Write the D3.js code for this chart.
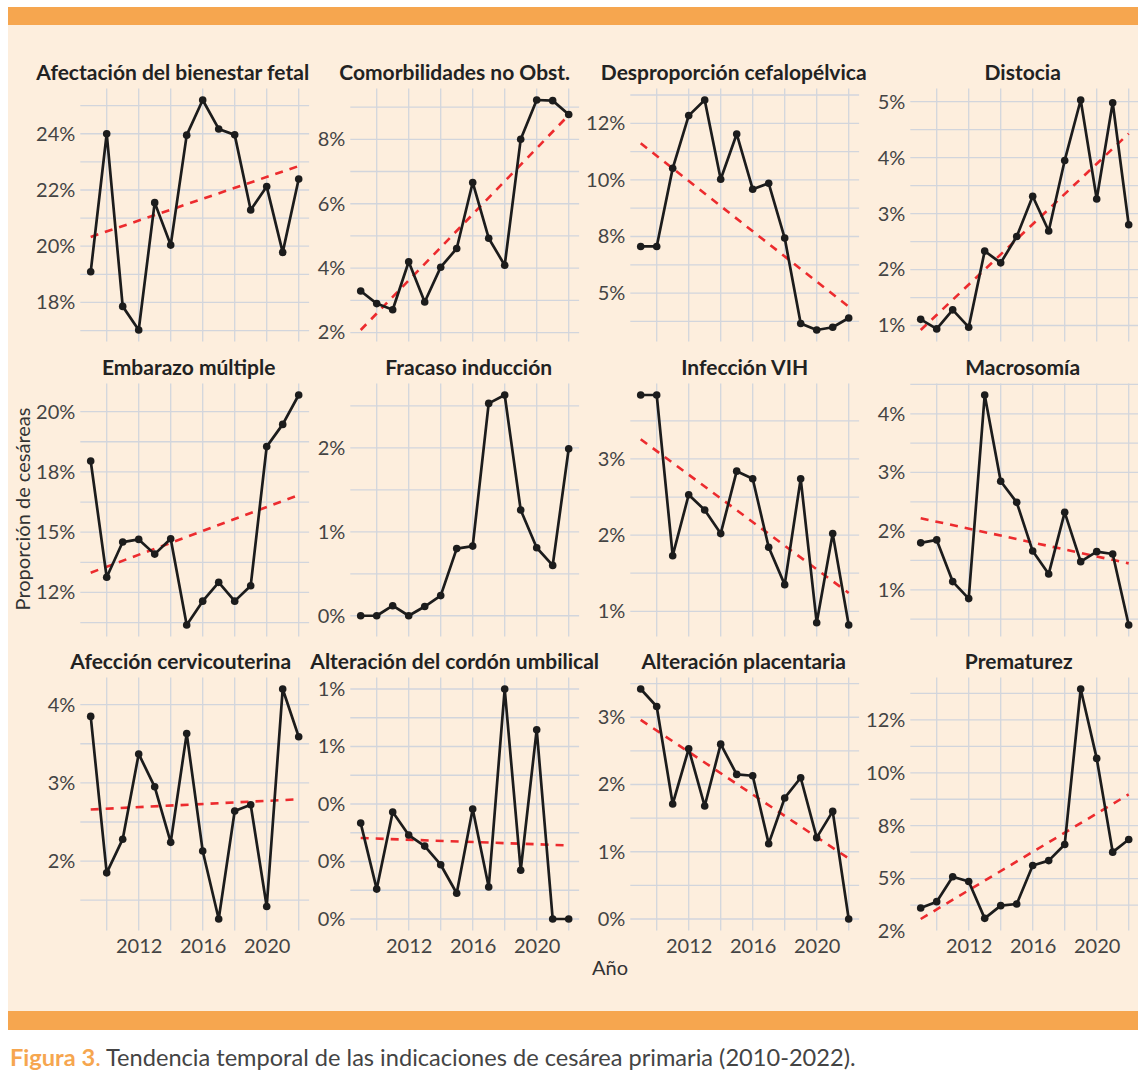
<!DOCTYPE html>
<html><head><meta charset="utf-8">
<script src="https://cdn.jsdelivr.net/npm/d3@7"></script>
<style>
body{margin:0;background:#fff}
svg{display:block}
text{font-family:Lato,"Open Sans","Noto Sans",sans-serif}
</style>
</head><body>
<svg id="c" width="1138" height="1078"></svg>
<script>
// ---------------- DATA ----------------
const years = [2009,2010,2011,2012,2013,2014,2015,2016,2017,2018,2019,2020,2021,2022];
const titles = ["Afectación del bienestar fetal","Comorbilidades no Obst.","Desproporción cefalopélvica","Distocia",
  "Embarazo múltiple","Fracaso inducción","Infección VIH","Macrosomía",
  "Afección cervicouterina","Alteración del cordón umbilical","Alteración placentaria","Prematurez"];

const afectacionBienestar = [19.09,24.0,17.86,17.02,21.55,20.04,23.95,25.2,24.17,23.96,21.29,22.12,19.78,22.39];
const comorbilidades      = [3.29,2.90,2.71,4.20,2.95,4.03,4.61,6.66,4.93,4.09,8.0,9.22,9.20,8.77];
const desproporcion       = [7.06,7.06,10.51,12.84,13.53,10.03,12.03,9.59,9.85,7.43,3.66,3.37,3.49,3.90];
const distocia            = [1.11,0.94,1.28,0.97,2.33,2.12,2.59,3.31,2.69,3.95,5.03,3.26,4.98,2.80];
const embarazoMultiple    = [17.95,13.13,14.59,14.70,14.09,14.73,11.15,12.14,12.92,12.14,12.78,18.55,19.47,20.69];
const fracasoInduccion    = [0.00,0.00,0.12,0.00,0.11,0.24,0.80,0.83,2.53,2.63,1.26,0.81,0.60,1.99];
const infeccionVIH        = [3.84,3.84,1.73,2.53,2.33,2.02,2.84,2.74,1.84,1.35,2.74,0.85,2.02,0.82];
const macrosomia          = [1.80,1.85,1.14,0.85,4.32,2.85,2.49,1.66,1.27,2.32,1.48,1.65,1.61,0.40];
const afeccionCervico     = [3.85,1.85,2.28,3.37,2.95,2.24,3.63,2.13,1.26,2.64,2.72,1.42,4.20,3.59];
const cordonUmbilical     = [0.417,0.130,0.465,0.365,0.317,0.236,0.112,0.478,0.139,1.000,0.212,0.823,0.000,0.000];
const placentaria         = [3.42,3.16,1.71,2.53,1.68,2.60,2.15,2.13,1.12,1.80,2.10,1.21,1.60,0.00];
const prematurez          = [3.61,3.91,5.09,4.86,3.12,3.72,3.80,5.62,5.85,6.61,13.96,10.68,6.25,6.85];

const seriesList = [afectacionBienestar,comorbilidades,desproporcion,distocia,embarazoMultiple,fracasoInduccion,
  infeccionVIH,macrosomia,afeccionCervico,cordonUmbilical,placentaria,prematurez];

// linear trend (value at first and last year)
const trendStart = [20.33,2.08,11.62,0.92,13.32,-0.11,3.26,2.22,2.66,0.352,2.96,3.09];
const trendEnd   = [22.85,8.75,4.40,4.43,16.54,1.81,1.24,1.45,2.79,0.320,0.90,8.98];
const trendShown = [true,true,true,true,true,false,true,true,true,true,true,true];

const yTickValues = [[18,20,22,24],[2,4,6,8],[5,7.5,10,12.5],[1,2,3,4,5],
  [12.5,15,17.5,20],[0,1,2],[1,2,3],[1,2,3,4],
  [2,3,4],[0,0.25,0.5,0.75,1],[0,1,2,3],[2.5,5,7.5,10,12.5]];
const yTickLabels = [["18%","20%","22%","24%"],["2%","4%","6%","8%"],["5%","8%","10%","12%"],["1%","2%","3%","4%","5%"],
  ["12%","15%","18%","20%"],["0%","1%","2%"],["1%","2%","3%"],["1%","2%","3%","4%"],
  ["2%","3%","4%"],["0%","0%","0%","1%","1%"],["0%","1%","2%","3%"],["2%","5%","8%","10%","12%"]];
const xTickValues = [2012,2016,2020];
const xTickLabels = ["2012","2016","2020"];
const xMinorValues = [2010,2014,2018,2022];

// ---------------- LAYOUT ----------------
const svg = d3.select("#c");
const ORANGE = "#F6A64F", BEIGE = "#FDEEDD";
svg.append("rect").attr("x",8).attr("y",7).attr("width",1130).attr("height",18).attr("fill",ORANGE);
svg.append("rect").attr("x",8).attr("y",25).attr("width",1130).attr("height",986).attr("fill",BEIGE);
svg.append("rect").attr("x",8).attr("y",1011).attr("width",1130).attr("height",19).attr("fill",ORANGE);

const cap = svg.append("text").attr("x",10).attr("y",1066).attr("font-size",23.6).attr("fill","#444");
cap.append("tspan").attr("fill",ORANGE).attr("font-weight",700).text("Figura 3");
cap.append("tspan").attr("fill",ORANGE).text(". ");
cap.append("tspan").text("Tendencia temporal de las indicaciones de cesárea primaria (2010-2022).");

const ROW_TOP = [88.5,383.5,677.5], H = 253;
const COL_LEFT = [80.3,350.3,630.3,910.3], W = 228.8;
const titleDx = [-22,-10,-11,-2,-6,4,0,-2,-14,-10,-1,-6];
const GRID = "#d2d5dc";

titles.forEach((title,i)=>{
  const r = Math.floor(i/4), c = i%4;
  const left = COL_LEFT[c], top = ROW_TOP[r];
  const vals = seriesList[i];
  const x = d3.scaleLinear().domain([years[0]-0.65, years[years.length-1]+0.65]).range([left,left+W]);
  const ext = d3.extent(vals.concat([trendStart[i],trendEnd[i]]));
  const pad = (ext[1]-ext[0])*0.05;
  const y = d3.scaleLinear().domain([ext[0]-pad, ext[1]+pad]).range([top+H, top]);
  const g = svg.append("g");

  // grid
  const tv = yTickValues[i];
  const step = tv[1]-tv[0];
  const hGrid = [];
  tv.forEach(v=>hGrid.push(v));
  for (let k=0;k<tv.length-1;k++) hGrid.push((tv[k]+tv[k+1])/2);
  hGrid.push(tv[0]-step/2, tv[tv.length-1]+step/2);
  const [d0,d1] = y.domain();
  g.selectAll(".hg").data(hGrid.filter(v=>v>=d0 && v<=d1)).join("line")
    .attr("x1",left).attr("x2",left+W).attr("y1",d=>y(d)).attr("y2",d=>y(d))
    .attr("stroke",GRID).attr("stroke-width",1.3);
  g.selectAll(".vg").data(xTickValues.concat(xMinorValues)).join("line")
    .attr("x1",d=>x(d)).attr("x2",d=>x(d)).attr("y1",top).attr("y2",top+H)
    .attr("stroke",GRID).attr("stroke-width",1.3);

  // y axis
  const ya = g.append("g").attr("transform",`translate(${left},0)`)
    .call(d3.axisLeft(y).tickValues(tv).tickFormat((d,k)=>yTickLabels[i][k]).tickSize(0).tickPadding(5));
  ya.select(".domain").remove();
  ya.selectAll("text").attr("font-size",20).attr("fill","#444").attr("font-family","Lato, sans-serif");

  // x axis on bottom row
  if (r===2){
    const xa = g.append("g").attr("transform",`translate(0,${top+H})`)
      .call(d3.axisBottom(x).tickValues(xTickValues).tickFormat((d,k)=>xTickLabels[k]).tickSize(0).tickPadding(8));
    xa.select(".domain").remove();
    xa.selectAll("text").attr("font-size",20).attr("fill","#444").attr("font-family","Lato, sans-serif");
  }

  // trend
  if (trendShown[i]){
    const tline = [[years[0],trendStart[i]],[years[years.length-1],trendEnd[i]]];
    g.append("path").datum(tline)
      .attr("d",d3.line().x(d=>x(d[0])).y(d=>y(d[1])))
      .attr("fill","none").attr("stroke","#EC2B2E").attr("stroke-width",2.6)
      .attr("stroke-dasharray","8,7");
  }

  // series
  const pts = years.map((yr,k)=>[yr,vals[k]]);
  g.append("path").datum(pts)
    .attr("d",d3.line().x(d=>x(d[0])).y(d=>y(d[1])))
    .attr("fill","none").attr("stroke","#1c1c1c").attr("stroke-width",2.7).attr("stroke-linejoin","round");
  g.selectAll(".pt").data(pts).join("circle")
    .attr("cx",d=>x(d[0])).attr("cy",d=>y(d[1])).attr("r",3.8).attr("fill","#1c1c1c");

  // title
  svg.append("text").attr("x",left+W/2+titleDx[i]).attr("y",top-8.5)
    .attr("text-anchor","middle").attr("font-size",21).attr("font-weight",700).attr("fill","#222")
    .text(title);
});

svg.append("text").attr("x",610).attr("y",975).attr("text-anchor","middle")
  .attr("font-size",20).attr("fill","#333").text("Año");
svg.append("text").attr("transform","translate(30,509) rotate(-90)").attr("text-anchor","middle")
  .attr("font-size",20).attr("fill","#333").text("Proporción de cesáreas");
</script>
</body></html>
